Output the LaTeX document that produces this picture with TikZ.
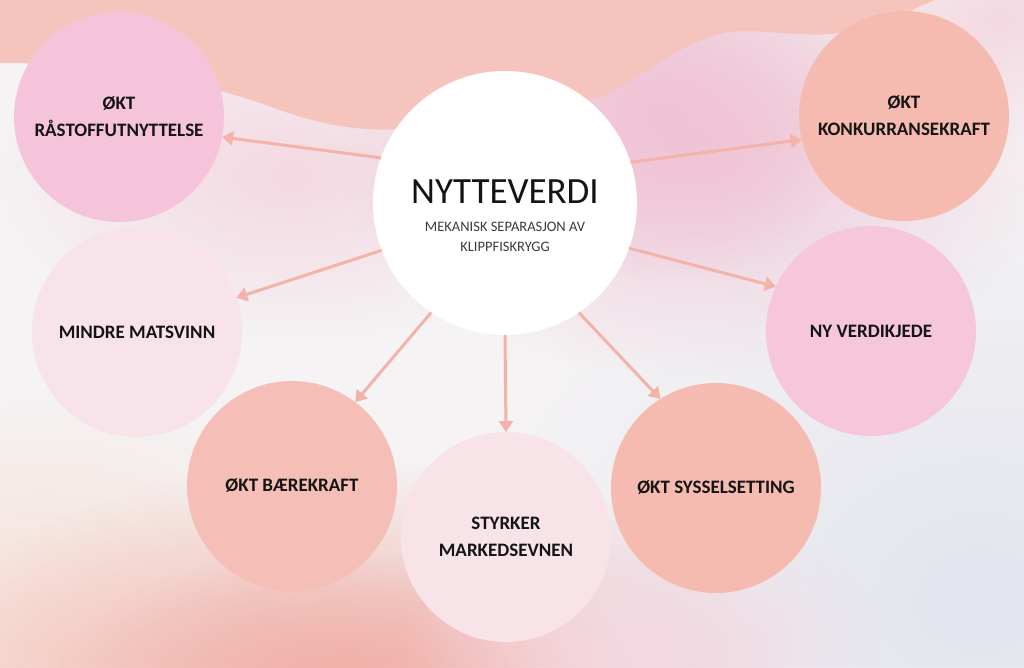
\documentclass[tikz,border=0pt]{standalone}
\usepackage{fontspec}
\setmainfont{Carlito}
\usetikzlibrary{arrows.meta,fadings}
\definecolor{bgbase}{HTML}{F5F3F4}
\definecolor{band}{HTML}{F5C5BD}
\definecolor{pinkwave}{HTML}{F0C4D6}
\definecolor{pinklight}{HTML}{F4D8E2}
\definecolor{salmonlow}{HTML}{F1B1A9}
\definecolor{peach}{HTML}{F7DED4}
\definecolor{greyblue}{HTML}{E3E4EE}
\definecolor{cRas}{HTML}{F6C4DA}
\definecolor{cMat}{HTML}{F8E3EA}
\definecolor{cBae}{HTML}{F5BEB6}
\definecolor{cMar}{HTML}{F8E3E9}
\definecolor{cSys}{HTML}{F6BBB0}
\definecolor{cNyv}{HTML}{F6C6DB}
\definecolor{cKon}{HTML}{F6BBB0}
\definecolor{arrowc}{HTML}{F4B3A8}
\definecolor{txt}{HTML}{141414}
\definecolor{subtxt}{HTML}{3C3C3C}
\tikzfading[name=soft, inner color=transparent!0, outer color=transparent!100]
\begin{document}
\begin{tikzpicture}[x=1pt,y=-1pt,
  bub/.style={circle, minimum size=210pt, inner sep=0pt, outer sep=0pt, align=center,
    font=\fontsize{19}{27}\selectfont\bfseries, text=txt},
  hubstyle/.style={circle, fill=white, minimum size=264pt, inner sep=0pt, outer sep=0pt},
  arr/.style={draw=arrowc, line width=3pt, -{Triangle[width=14pt,length=11pt]}},
  blob/.style={path fading=soft}]
\useasboundingbox (0,0) rectangle (1024,667);
\fill[bgbase] (0,0) rectangle (1024,667);
\begin{scope}
\clip (0,0) rectangle (1024,667);
% background blobs
\fill[pinklight, blob] (290,175) ellipse [x radius=300, y radius=170];
\fill[pinkwave, blob] (700,150) ellipse [x radius=360, y radius=230];
\fill[pinkwave, blob] (660,110) ellipse [x radius=200, y radius=170];
\fill[pinklight, blob] (1000,20) ellipse [x radius=160, y radius=120];
\fill[greyblue, blob] (980,600) ellipse [x radius=520, y radius=420];
\fill[peach, blob] (40,650) ellipse [x radius=320, y radius=260];
\fill[salmonlow, blob] (350,690) ellipse [x radius=440, y radius=230];
\fill[salmonlow, blob] (340,700) ellipse [x radius=300, y radius=150];
\fill[pinklight, blob] (640,650) ellipse [x radius=240, y radius=150];
% top band
\fill[band] (0,0) -- (0,63) .. controls (100,63) and (200,80) .. (280,110)
  .. controls (330,128) and (380,135) .. (430,125) -- (600,97)
  .. controls (640,80) and (680,40) .. (730,32)
  .. controls (770,29) and (800,38) .. (840,33)
  .. controls (880,28) and (910,10) .. (935,0) -- cycle;
\end{scope}
% circles
\node[hubstyle] (hub) at (505,203) {};
\node[font=\fontsize{37}{40}\selectfont, text=txt] (title) at (505,192) {NYTTEVERDI};
\node[font=\fontsize{14.5}{20}\selectfont, text=subtxt, align=center] (sub) at (505,237) {MEKANISK SEPARASJON AV\\KLIPPFISKRYGG};
\node[bub, fill=cRas] (ras) at (119,117) {ØKT\\RÅSTOFFUTNYTTELSE};
\node[bub, fill=cMat] (mat) at (137,332) {MINDRE MATSVINN};
\node[bub, fill=cBae] (bae) at (292,486) {ØKT BÆREKRAFT};
\node[bub, fill=cMar] (mar) at (506,537) {STYRKER\\MARKEDSEVNEN};
\node[bub, fill=cSys] (sys) at (716,488) {ØKT SYSSELSETTING};
\node[bub, fill=cNyv] (nyv) at (871,331) {NY VERDIKJEDE};
\node[bub, fill=cKon] (kon) at (904,116) {ØKT\\KONKURRANSEKRAFT};
% arrows
\draw[arr] (hub.160) -- (ras.-11);
\draw[arr] (hub.18) -- (kon.193);
\draw[arr] (hub.201) -- (mat.19);
\draw[arr] (hub.-20) -- (nyv.155);
\draw[arr] (hub.236) -- (bae.53);
\draw[arr] (hub.-90) -- (mar.90);
\draw[arr] (hub.-56) -- (sys.122);
\end{tikzpicture}
\end{document}
